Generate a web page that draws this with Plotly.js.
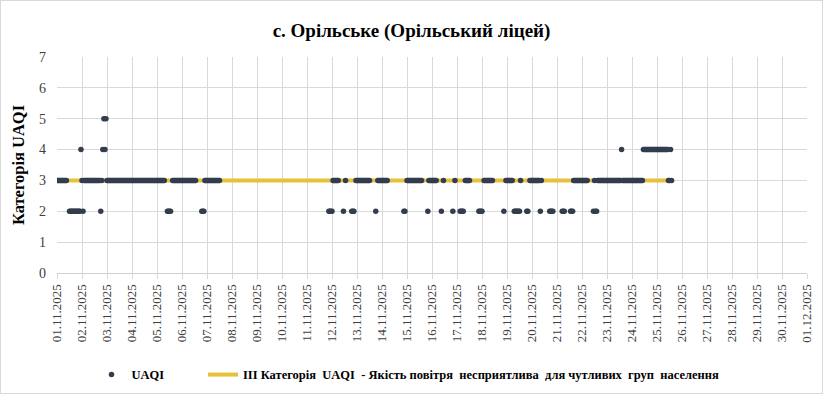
<!DOCTYPE html>
<html><head><meta charset="utf-8">
<script src="https://cdn.plot.ly/plotly-3.0.1.min.js"></script>
<style>
body{margin:0;background:#fff;}
#wrap{position:relative;width:823px;height:394px;}
#chart{width:823px;height:394px;}
#frame{position:absolute;left:0;top:0;width:821px;height:392px;border:1px solid #d9d9d9;pointer-events:none;}
</style>
</head><body>
<div id="wrap"><div id="chart"></div><div id="frame"></div></div>
<script>
const chartTitle = 'с. Орільське (Орільський ліцей)';
const yTitle = 'Категорія UAQI';
const seriesName = 'UAQI';
const lineName = 'ІІІ Категорія\u00a0 UAQI\u00a0 - Якість повітря\u00a0 несприятлива\u00a0 для чутливих\u00a0 груп\u00a0 населення';
const startDate = '2025-11-01';
// hourly UAQI category readings, one 24-character string per day ('.' = no reading)
const hourlyByDay = [
  '3333333333..222222222224', // 01.11
  '323333333333333333234545', // 02.11
  '333333333333333333333333', // 03.11
  '333333333333333333333333', // 04.11
  '33333333..2222.333333333', // 05.11
  '33333333333333.....22233', // 06.11
  '3333333333333...........', // 07.11
  '........................', // 08.11
  '........................', // 09.11
  '........................', // 10.11
  '.....................222', // 11.11
  '2333333....2.3.....222.3', // 12.11
  '3333333333333.....2.3333', // 13.11
  '333333...............22.', // 14.11
  '333333333333333.....2333', // 15.11
  '33333....2.3........2.3.', // 16.11
  '...2222.33333........222', // 17.11
  '2.333333333..........2.3', // 18.11
  '333333.2222223.....22.33', // 19.11
  '3333333323.......2222...', // 20.11
  '.....222.....22233333333', // 21.11
  '333333.....2322333333333', // 22.11
  '333333333333334333333333', // 23.11
  '333333333334444444444444', // 24.11
  '444444444443343'           // 25.11
];
const thresholdValue = 3;
const tickLabels = ['01.11.2025','02.11.2025','03.11.2025','04.11.2025','05.11.2025','06.11.2025','07.11.2025','08.11.2025','09.11.2025','10.11.2025','11.11.2025','12.11.2025','13.11.2025','14.11.2025','15.11.2025','16.11.2025','17.11.2025','18.11.2025','19.11.2025','20.11.2025','21.11.2025','22.11.2025','23.11.2025','24.11.2025','25.11.2025','26.11.2025','27.11.2025','28.11.2025','29.11.2025','30.11.2025','01.12.2025'];
const yTicks = [0,1,2,3,4,5,6,7];
</script>
<script>
const HOUR = 3600000;
const sp = startDate.split('-').map(Number);
const t0 = Date.UTC(sp[0], sp[1]-1, sp[2]);
const xs = [], ys = [];
hourlyByDay.forEach((s, d) => {
  for (let h = 0; h < s.length; h++) {
    const c = s[h];
    if (c >= '0' && c <= '9') { xs.push(t0 + (d*24 + h)*HOUR); ys.push(Number(c)); }
  }
});
const lineX = [t0, xs[xs.length-1]];
const lineY = lineX.map(() => thresholdValue);
const tickVals = tickLabels.map(l => { const p = l.split('.').map(Number); return Date.UTC(p[2], p[1]-1, p[0]); });
const serif = 'Liberation Serif, Times New Roman, DejaVu Serif, serif';
const legendFont = {family:serif, size:12.5, color:'#000', weight:'bold'};

const traces = [
  { type:'scatter', mode:'lines', x: lineX, y: lineY, name: lineName, legend:'legend2',
    line:{color:'#E8C13C', width:4}, hoverinfo:'skip' },
  { type:'scatter', mode:'markers', x: xs, y: ys, name: seriesName, legend:'legend',
    marker:{color:'#333D4D', size:5.5} }
];
const layout = {
  width: 823, height: 394,
  margin: {l:57, r:16, t:57, b:121, autoexpand:false},
  paper_bgcolor:'#fff', plot_bgcolor:'#fff',
  font: {family: serif, color:'#404040'},
  title: {text: '<b>'+chartTitle+'</b>', font:{family:serif, size:19, color:'#000'},
          x:0.5, xref:'container', y:1-30/394, yref:'container', yanchor:'middle'},
  xaxis: {type:'date', range:[tickVals[0], tickVals[tickVals.length-1]], automargin:false,
          tickvals: tickVals, ticktext: tickLabels, tickangle:-90,
          tickfont:{family:serif, size:13, color:'#404040'},
          showgrid:true, gridcolor:'#d9d9d9', gridwidth:1,
          showline:true, linecolor:'#cfcfcf', linewidth:1,
          ticks:'outside', ticklen:5, tickcolor:'#d9d9d9', zeroline:false, fixedrange:true},
  yaxis: {range:[0,7], tickvals:yTicks, ticktext: yTicks.map(String), automargin:false,
          tickfont:{family:serif, size:14, color:'#404040'},
          showgrid:true, gridcolor:'#d9d9d9', gridwidth:1, zeroline:false,
          showline:false, ticks:'', ticklabelstandoff: 10,
          title:{text:'<b>'+yTitle+'</b>', font:{family:serif, size:16.5, color:'#000'}, standoff:10}},
  legend: {orientation:'h', x:0.046, xanchor:'left', y:-0.472, yanchor:'middle',
           font:legendFont, bgcolor:'rgba(0,0,0,0)'},
  legend2: {orientation:'h', x:(203-57)/750, xanchor:'left', y:-0.472, yanchor:'middle',
           font:legendFont, bgcolor:'rgba(0,0,0,0)'},
  showlegend: true
};
Plotly.newPlot('chart', traces, layout, {displayModeBar:false, staticPlot:true});
</script>
</body></html>
